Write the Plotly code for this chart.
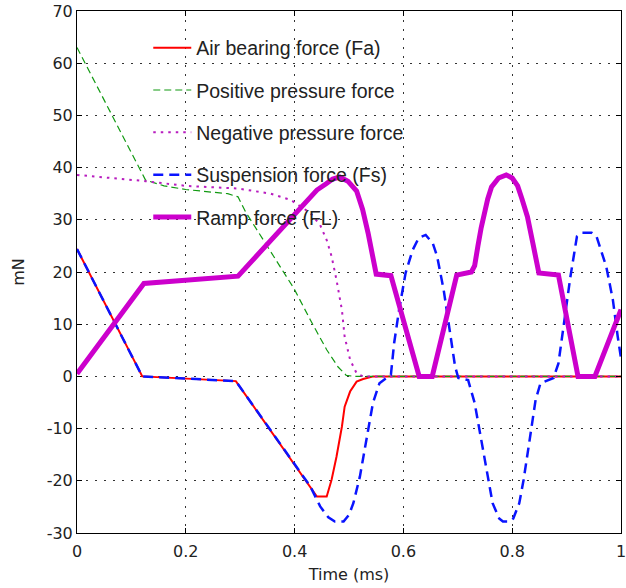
import plotly.graph_objects as go

# Time axis (ms) and force samples (mN) for each curve
t_fa = [0, 0.12, 0.292, 0.441, 0.459, 0.468, 0.477, 0.487, 0.492, 0.502, 0.514, 0.526, 0.545, 1.0]
fa = [24.4, 0.0, -0.9, -23.0, -23.0, -19.8, -15.4, -9.6, -5.8, -2.9, -1.0, -0.5, 0.0, 0.0]

t_pp = [0, 0.126, 0.16, 0.2, 0.277, 0.296, 0.31, 0.369, 0.399, 0.429, 0.459, 0.48, 0.495, 0.51, 1.0]
pp = [63, 37.6, 36.5, 35.8, 35.0, 34.4, 31.5, 21.8, 16.8, 10.8, 5.1, 1.8, 0.2, 0, 0]

t_np = [0, 0.126, 0.2, 0.296, 0.356, 0.393, 0.429, 0.447, 0.459, 0.468, 0.477, 0.487,
        0.492, 0.502, 0.514, 0.526, 1.0]
npf = [38.6, 37.4, 36.5, 36.0, 35.0, 33.8, 31.3, 29.0, 26.1, 23.0, 18.5, 12.7,
       7.6, 3.2, 0.6, 0, 0]

t_fs = [0, 0.12, 0.292, 0.429, 0.447, 0.462, 0.474, 0.49, 0.50, 0.508, 0.52, 0.532, 0.544,
        0.556, 0.568, 0.577, 0.583, 0.592, 0.604, 0.617, 0.628, 0.641, 0.654, 0.662, 0.674,
        0.686, 0.695, 0.701, 0.719, 0.731, 0.743, 0.755, 0.764, 0.776, 0.783, 0.795, 0.802,
        0.813, 0.821, 0.832, 0.843, 0.852, 0.876, 0.885, 0.894, 0.907, 0.919, 0.928, 0.946,
        0.955, 0.973, 0.985, 0.994, 1.0]
fs = [24.4, 0.0, -0.9, -21.1, -24.9, -27.0, -27.8, -27.8, -26.5, -24.3, -19.2, -12.2, -5.1,
      -1.3, -0.3, 0.3, 6.4, 12.7, 19.8, 24.2, 26.5, 27.1, 25.5, 23.0, 16.6,
      8.3, 1.9, -0.3, -0.7, -5.1, -12.2, -19.8, -24.3, -27.2, -27.8, -27.8, -27.2,
      -24.3, -19.8, -12.2, -4.5, -1.3, -0.3, 2.5, 9.5, 19.1, 26.8, 27.5, 27.5,
      26.8, 21.0, 14.7, 7.6, 3.5]

t_fl = [0, 0.123, 0.296, 0.40, 0.441, 0.458, 0.47, 0.483, 0.498, 0.514, 0.525, 0.535, 0.544,
        0.55, 0.577, 0.629, 0.653, 0.698, 0.725, 0.731, 0.737, 0.743, 0.755, 0.762, 0.775,
        0.789, 0.80, 0.81, 0.818, 0.828, 0.838, 0.849, 0.885, 0.921, 0.952, 1.0]
fl = [0.5, 17.8, 19.2, 31.1, 35.7, 36.9, 37.8, 38.2, 37.4, 35.5, 32.0, 27.5, 22.5,
      19.6, 19.3, 0, 0, 19.4, 20, 21.2, 25.0, 28.5, 34.0, 36.3, 38.0,
      38.6, 38.0, 36.5, 34.0, 30.6, 25.5, 19.8, 19.4, 0, 0, 12.8]

x_ticks = [0, 0.2, 0.4, 0.6, 0.8, 1]
y_ticks = [-30, -20, -10, 0, 10, 20, 30, 40, 50, 60, 70]

fig = go.Figure()
fig.add_trace(go.Scatter(x=t_fa, y=fa, mode="lines", name="Air bearing force (Fa)",
                         legendgroup="a", line=dict(color="#ff0000", width=2)))
fig.add_trace(go.Scatter(x=t_pp, y=pp, mode="lines", name="Positive pressure force",
                         legendgroup="b", line=dict(color="#119911", width=1.2, dash="7px,4px")))
fig.add_trace(go.Scatter(x=t_np, y=npf, mode="lines", name="Negative pressure force",
                         legendgroup="c", line=dict(color="#b81cbf", width=2, dash="2.5px,5px")))
fig.add_trace(go.Scatter(x=t_fs, y=fs, mode="lines", name="Suspension force (Fs)",
                         legendgroup="d", line=dict(color="#0a14ff", width=2.5, dash="10px,6px")))
fig.add_trace(go.Scatter(x=t_fl, y=fl, mode="lines", name="Ramp force (FL)",
                         legendgroup="e", line=dict(color="#cc00cc", width=5)))

tick_font = dict(family="DejaVu Sans", size=16, color="#222222")
axis_common = dict(
    showline=True, linecolor="black", linewidth=1, mirror="ticks",
    ticks="inside", ticklen=5, tickcolor="black", tickwidth=1,
    showgrid=True, gridcolor="#333333", gridwidth=1, griddash="1.5px,7.5px",
    zeroline=False, tickfont=tick_font, ticklabeloverflow="allow",
)

fig.update_layout(
    width=626, height=588,
    margin=dict(l=77, r=0, t=11, b=55),
    paper_bgcolor="white", plot_bgcolor="white",
    xaxis=dict(range=[0, 1], tickvals=x_ticks, ticktext=[str(v) for v in x_ticks],
               ticklabelstandoff=4,
               title=dict(text="Time (ms)", font=dict(family="DejaVu Sans", size=16, color="#222222"),
                          standoff=8),
               **axis_common),
    yaxis=dict(range=[-30, 70], tickvals=y_ticks, ticktext=[str(v) for v in y_ticks],
               title=dict(text="mN", font=dict(family="DejaVu Sans", size=16, color="#222222"),
                          standoff=18),
               **axis_common),
    showlegend=True,
    legend=dict(x=0.131, y=0.9665, xanchor="left", yanchor="top",
                bgcolor="rgba(0,0,0,0)", borderwidth=0,
                font=dict(family="Liberation Sans", size=19.5, color="#222222"),
                tracegroupgap=14, itemwidth=38),
)

fig.write_html("out.html")
